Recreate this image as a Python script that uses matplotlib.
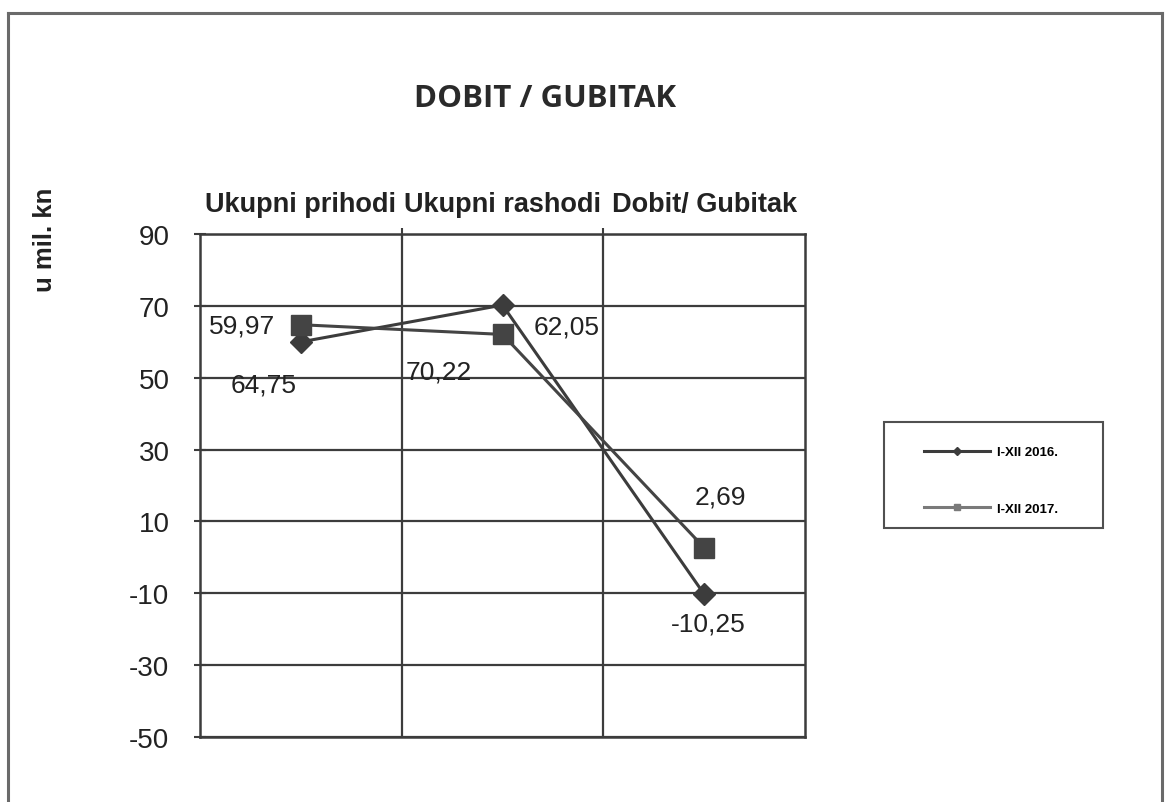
"""Linijski grafikon: DOBIT / GUBITAK (u mil. kn)."""

import matplotlib
matplotlib.use("Agg")
import matplotlib.pyplot as plt
from matplotlib.lines import Line2D
from matplotlib.patches import Rectangle

categories = ["Ukupni prihodi", "Ukupni rashodi", "Dobit/ Gubitak"]
series_names = ["I-XII 2016.", "I-XII 2017."]
values_2016 = [59.97, 70.22, -10.25]
values_2017 = [64.75, 62.05, 2.69]
y_ticks = [-50, -30, -10, 10, 30, 50, 70, 90]

# pomaci oznaka vrijednosti (u točkama), kao na originalu
offsets_2016 = [(-42, 12), (-46, -48), (3, -21)]
offsets_2017 = [(-27, -43), (46, 6), (12, 37)]

DARK = "#3c3c3c"
W, H = 1166, 803
plt.rcParams["font.family"] = ["Liberation Sans", "DejaVu Sans"]
plt.rcParams["axes.unicode_minus"] = False

fig = plt.figure(figsize=(W / 100, H / 100), dpi=100)
ax = fig.add_axes([200 / W, 1 - 738 / H, 605 / W, 503 / H])

x = list(range(len(categories)))
line16, = ax.plot(x, values_2016, color=DARK, lw=2.2, marker="D", ms=11,
                  label=series_names[0], zorder=4)
line17, = ax.plot(x, values_2017, color="#444444", lw=2.2, marker="s", ms=14,
                  label=series_names[1], zorder=4)

for xi, v, off in zip(x, values_2016, offsets_2016):
    ax.annotate(f"{v:.2f}".replace(".", ","), (xi, v), xytext=off,
                textcoords="offset points", ha="center", va="center",
                fontsize=19, color="#222222", zorder=5)
for xi, v, off in zip(x, values_2017, offsets_2017):
    ax.annotate(f"{v:.2f}".replace(".", ","), (xi, v), xytext=off,
                textcoords="offset points", ha="center", va="center",
                fontsize=19, color="#222222", zorder=5)

ax.set_xlim(-0.5, len(categories) - 0.5)
ax.set_ylim(-50, 90)
ax.set_yticks(y_ticks)
ax.tick_params(axis="y", direction="inout", length=8, width=1.5, color=DARK,
               labelsize=20, pad=18, labelcolor="#222222")

ax.xaxis.tick_top()
ax.set_xticks(x)
ax.set_xticklabels(categories, fontsize=19.5, fontweight="bold", color="#222222")
ax.tick_params(axis="x", which="major", length=0, pad=12)
ax.set_xticks([i + 0.5 for i in x[:-1]], minor=True)
ax.tick_params(axis="x", which="minor", direction="inout", length=8, width=1.5,
               color=DARK)

ax.grid(axis="y", color=DARK, lw=1.6)
ax.grid(axis="x", which="minor", color=DARK, lw=1.6)
for spine in ax.spines.values():
    spine.set_color(DARK)
    spine.set_linewidth(1.8)

fig.text(45 / W, 1 - 240 / H, "u mil. kn", rotation=90, ha="center",
         va="center", fontsize=18.5, fontweight="bold", color="#222222")
fig.text(545 / W, 1 - 99 / H, "DOBIT / GUBITAK", ha="center", va="center",
         fontsize=22.5, fontweight="bold", family="Open Sans", color="#2a2a2a")

# legenda: okvir crtan zasebno
fig.add_artist(Rectangle((884 / W, 1 - 529 / H), 219 / W, 106 / H,
                         transform=fig.transFigure, fill=False,
                         edgecolor="#505050", lw=1.5))
leg = fig.legend(handles=[line16, line17], loc="upper left",
                 bbox_to_anchor=(924 / W, 1 - 447 / H),
                 prop={"weight": "bold", "size": 9.5}, markerscale=0.35,
                 handlelength=5, handletextpad=0.5, labelspacing=3.35,
                 borderpad=0, borderaxespad=0, frameon=False)
leg.get_lines()[1].set_color("#7a7a7a")

# vanjski okvir
border = dict(color="#6a6a6a", lw=2.2, transform=fig.transFigure)
fig.add_artist(Line2D([8 / W, 8 / W], [0, 1 - 14 / H], **border))
fig.add_artist(Line2D([8 / W, 1162 / W], [1 - 14 / H, 1 - 14 / H], **border))
fig.add_artist(Line2D([1162 / W, 1162 / W], [0, 1 - 14 / H], **border))

fig.savefig("out.png", dpi=100)
